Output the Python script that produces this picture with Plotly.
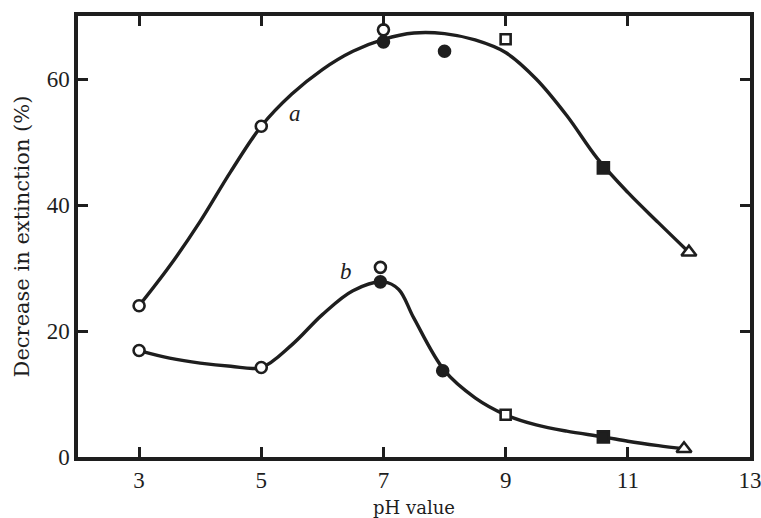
import plotly.graph_objects as go

# Measured data points (pH, decrease in extinction %)
a_open_circle_x = [3, 5, 7]
a_open_circle_y = [24, 52.5, 67.8]
a_filled_circle_x = [7, 8]
a_filled_circle_y = [65.9, 64.4]
a_open_square_x = [9]
a_open_square_y = [66.3]
a_filled_square_x = [10.6]
a_filled_square_y = [45.9]
a_triangle_x = [12]
a_triangle_y = [32.5]

b_open_circle_x = [3, 5, 6.95]
b_open_circle_y = [16.9, 14.2, 30.1]
b_filled_circle_x = [6.95, 7.97]
b_filled_circle_y = [27.8, 13.7]
b_open_square_x = [9]
b_open_square_y = [6.7]
b_filled_square_x = [10.6]
b_filled_square_y = [3.2]
b_triangle_x = [11.92]
b_triangle_y = [1.3]

# Fitted curves
curve_a_x = [3, 3.5, 4, 4.5, 5, 5.5, 6, 6.5, 7, 7.5, 8, 8.5, 9, 9.5, 10, 10.5, 11, 11.5, 12]
curve_a_y = [24, 30.3, 37.4, 45.3, 52.5, 57.6, 61.5, 64.4, 66.3, 67.3, 67.2, 66.2, 64.2, 60.0, 54.2, 47.4, 42.0, 37.2, 32.5]
curve_b_x = [3, 3.5, 4, 4.5, 5, 5.5, 6, 6.5, 7, 7.25, 7.5, 8, 8.5, 9, 9.5, 10, 10.6, 11, 11.5, 11.92]
curve_b_y = [16.9, 15.7, 14.9, 14.4, 14.2, 17.8, 22.6, 26.4, 27.8, 26.6, 22.0, 13.7, 9.4, 6.7, 5.1, 4.1, 3.2, 2.5, 1.8, 1.3]

x_ticks = [3, 5, 7, 9, 11, 13]
y_ticks = [0, 20, 40, 60]

INK = "#1e1e1e"
fig = go.Figure()

for cx, cy in [(curve_a_x, curve_a_y), (curve_b_x, curve_b_y)]:
    fig.add_trace(go.Scatter(x=cx, y=cy, mode="lines",
                             line=dict(color=INK, width=3.4, shape="spline", smoothing=1.0),
                             hoverinfo="skip", showlegend=False))

def markers(x, y, symbol, size, filled):
    fig.add_trace(go.Scatter(x=x, y=y, mode="markers", showlegend=False,
                             marker=dict(symbol=symbol, size=size,
                                         color=INK if filled else "white",
                                         line=dict(color=INK, width=2.6))))

for open_c, filled_c, open_s, filled_s, tri in [
    ((a_open_circle_x, a_open_circle_y), (a_filled_circle_x, a_filled_circle_y),
     (a_open_square_x, a_open_square_y), (a_filled_square_x, a_filled_square_y),
     (a_triangle_x, a_triangle_y)),
    ((b_open_circle_x, b_open_circle_y), (b_filled_circle_x, b_filled_circle_y),
     (b_open_square_x, b_open_square_y), (b_filled_square_x, b_filled_square_y),
     (b_triangle_x, b_triangle_y)),
]:
    markers(*open_c, "circle", 11, False)
    markers(*filled_c, "circle", 11, True)
    markers(*open_s, "square", 10, False)
    markers(*filled_s, "square", 11, True)
    markers(*tri, "triangle-up", 13, False)

fig.add_annotation(x=5.56, y=54.6, text="<i>a</i>", showarrow=False,
                   font=dict(family="Liberation Serif", size=23, color=INK))
fig.add_annotation(x=6.39, y=29.5, text="<i>b</i>", showarrow=False,
                   font=dict(family="Liberation Serif", size=23, color=INK))

axis_common = dict(showline=True, linecolor=INK, linewidth=3.5, mirror="ticks",
                   ticks="inside", ticklen=10, tickwidth=2.5, tickcolor=INK,
                   showgrid=False, zeroline=False, automargin=False,
                   ticklabeloverflow="allow",
                   tickfont=dict(family="Liberation Serif", size=23, color=INK))

fig.update_xaxes(range=[2, 13], tickvals=x_ticks, ticktext=[str(v) for v in x_ticks],
                 title=dict(text="pH value", font=dict(family="DejaVu Serif", size=18, color=INK), standoff=14),
                 **axis_common)
fig.update_yaxes(range=[0, 70], tickvals=y_ticks, ticktext=[str(v) for v in y_ticks],
                 title=dict(text="Decrease in extinction (%)", font=dict(family="DejaVu Serif", size=21, color=INK), standoff=12),
                 **axis_common)

fig.update_layout(width=761, height=518, plot_bgcolor="white", paper_bgcolor="white",
                  margin=dict(l=78, r=11, t=16, b=61))

fig.write_html("out.html", config={"displayModeBar": False},
               post_script="document.body.style.margin='0';")
